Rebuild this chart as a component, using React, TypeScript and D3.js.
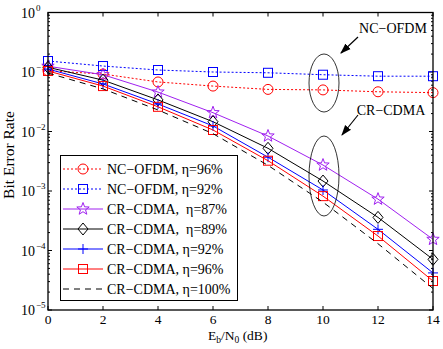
import React from "react"
import * as d3 from "d3"

const snr = [0, 2, 4, 6, 8, 10, 12, 14]

// BER values
const ofdm96 = [0.105, 0.0925, 0.068, 0.058, 0.051, 0.05, 0.0465, 0.045]
const ofdm92 = [0.153, 0.126, 0.108, 0.1, 0.097, 0.09, 0.085, 0.085]
const cdma87 = [0.125, 0.09, 0.046, 0.0207, 0.0084, 0.00273, 0.00073, 0.000154]
const cdma89 = [0.12, 0.073, 0.034, 0.0146, 0.00522, 0.00147, 0.00036, 0.000071]
const cdma92 = [0.112, 0.063, 0.029, 0.0124, 0.0037, 0.00104, 0.000227, 0.000042]
const cdma96 = [0.104, 0.058, 0.026, 0.0106, 0.00323, 0.00082, 0.000175, 0.0000307]
const cdma100 = [0.096, 0.052, 0.023, 0.0092, 0.0027, 0.00065, 0.00013, 0.000023]

const series = [
  { name: "NC\u2212OFDM, \u03b7=96%", vals: ofdm96, color: "#ff0000", dash: "2,2", marker: "circle" },
  { name: "NC\u2212OFDM, \u03b7=92%", vals: ofdm92, color: "#0000ff", dash: "2,2", marker: "square" },
  { name: "CR\u2212CDMA,  \u03b7=87%", vals: cdma87, color: "#a020f0", dash: null, marker: "star" },
  { name: "CR\u2212CDMA,  \u03b7=89%", vals: cdma89, color: "#000000", dash: null, marker: "diamond" },
  { name: "CR\u2212CDMA, \u03b7=92%", vals: cdma92, color: "#0000ff", dash: null, marker: "plus" },
  { name: "CR\u2212CDMA, \u03b7=96%", vals: cdma96, color: "#ff0000", dash: null, marker: "square" },
  { name: "CR\u2212CDMA, \u03b7=100%", vals: cdma100, color: "#000000", dash: "6,5", marker: null },
]

const xTicks = [0, 2, 4, 6, 8, 10, 12, 14]
const yExps = [0, -1, -2, -3, -4, -5]

const font = "Liberation Serif, Times New Roman, serif"

function Marker({ type, x, y, color }) {
  if (type === "circle") return <circle cx={x} cy={y} r={5} fill="none" stroke={color} strokeWidth={1} />
  if (type === "square") return <rect x={x - 4.5} y={y - 4.5} width={9} height={9} fill="none" stroke={color} strokeWidth={1} />
  if (type === "diamond") {
    return <path d={`M${x},${y - 6}L${x + 5},${y}L${x},${y + 6}L${x - 5},${y}Z`} fill="none" stroke={color} strokeWidth={1} />
  }
  if (type === "plus") {
    return <path d={`M${x - 5},${y}H${x + 5}M${x},${y - 5}V${y + 5}`} stroke={color} strokeWidth={1} />
  }
  if (type === "star") {
    const pts = d3.range(10).map(i => {
      const r = i % 2 === 0 ? 6.5 : 2.7
      const a = -Math.PI / 2 + i * Math.PI / 5
      return [x + r * Math.cos(a), y + r * Math.sin(a)]
    })
    return <path d={"M" + pts.map(p => p.join(",")).join("L") + "Z"} fill="none" stroke={color} strokeWidth={1} />
  }
  return null
}

export default function App() {
  const width = 443
  const height = 349
  const left = 48, right = 433, top = 12.5, bottom = 310

  const x = d3.scaleLinear().domain([0, 14]).range([left, right])
  const y = d3.scaleLog().domain([1e-5, 1]).range([bottom, top])

  const line = d3.line<number>()
    .x((d, i) => x(snr[i]))
    .y(d => y(d))

  const minor = []
  yExps.slice(1).forEach(e => {
    for (let k = 2; k <= 9; k++) minor.push(k * Math.pow(10, e))
  })

  const legX = 60.5, legY = 155.5, legW = 177, legH = 145
  const rowY = i => 169 + i * 20
  const tf = { fontFamily: font }

  return (
    <svg width={width} height={height} style={{ position: "absolute", left: 0, top: 0, background: "#fff", fontFamily: font }}>
      <rect width={width} height={height} fill="#fff" />
      {/* ticks */}
      {xTicks.map(t => (
        <g key={"xt" + t}>
          <line x1={x(t)} x2={x(t)} y1={bottom} y2={bottom - 4} stroke="#000" />
          <line x1={x(t)} x2={x(t)} y1={top} y2={top + 4} stroke="#000" />
          <text x={x(t)} y={324} fontSize={13.5} textAnchor="middle" style={tf}>{t}</text>
        </g>
      ))}
      {yExps.map(e => (
        <g key={"yt" + e}>
          <line x1={left} x2={left + 4} y1={y(Math.pow(10, e))} y2={y(Math.pow(10, e))} stroke="#000" />
          <line x1={right} x2={right - 4} y1={y(Math.pow(10, e))} y2={y(Math.pow(10, e))} stroke="#000" />
          <text x={21} y={y(Math.pow(10, e)) + 5} fontSize={14} style={tf}>10</text>
          <text x={36} y={y(Math.pow(10, e)) - 2} fontSize={9} style={tf}>{e === 0 ? "0" : "\u2212" + -e}</text>
        </g>
      ))}
      {minor.map((m, i) => (
        <g key={"mn" + i}>
          <line x1={left} x2={left + 2} y1={y(m)} y2={y(m)} stroke="#000" />
          <line x1={right} x2={right - 2} y1={y(m)} y2={y(m)} stroke="#000" />
        </g>
      ))}

      {/* curves */}
      {series.map((s, si) => (
        <g key={"s" + si}>
          <path d={line(s.vals)} fill="none" stroke={s.color} strokeWidth={1} strokeDasharray={s.dash || undefined} />
          {s.marker && s.vals.map((v, i) => (
            <Marker key={i} type={s.marker} x={x(snr[i])} y={y(v)} color={s.color} />
          ))}
        </g>
      ))}

      {/* frame */}
      <rect x={left} y={top} width={right - left} height={bottom - top} fill="none" stroke="#000" strokeWidth={1.3} />

      {/* annotations */}
      <ellipse cx={324} cy={83} rx={15} ry={29} fill="none" stroke="#000" strokeWidth={0.8} />
      <ellipse cx={324} cy={176} rx={15} ry={40} fill="none" stroke="#000" strokeWidth={0.8} />
      <defs>
        <marker id="arr" viewBox="0 0 10 10" refX={9} refY={5} markerWidth={9} markerHeight={9} orient="auto">
          <path d="M0,1.5L10,5L0,8.5Z" fill="#000" />
        </marker>
      </defs>
      <line x1={358} y1={37} x2={341} y2={53} stroke="#000" strokeWidth={1.2} markerEnd="url(#arr)" />
      <line x1={358} y1={115} x2={342} y2={135} stroke="#000" strokeWidth={1.2} markerEnd="url(#arr)" />
      <text x={393} y={33} fontSize={14} textAnchor="middle" style={tf}>NC{"\u2212"}OFDM</text>
      <text x={391} y={115} fontSize={14} textAnchor="middle" style={tf}>CR{"\u2212"}CDMA</text>

      {/* legend */}
      <rect x={legX} y={legY} width={legW} height={legH} fill="#fff" stroke="#000" strokeWidth={1} />
      {series.map((s, i) => (
        <g key={"lg" + i}>
          <line x1={63} x2={103} y1={rowY(i)} y2={rowY(i)} stroke={s.color} strokeWidth={1} strokeDasharray={s.dash || undefined} />
          {s.marker && <Marker type={s.marker} x={83} y={rowY(i)} color={s.color} />}
          <text x={107} y={rowY(i) + 5} fontSize={14} style={{ whiteSpace: "pre", fontFamily: font }}>{s.name}</text>
        </g>
      ))}

      {/* axis labels */}
      <text transform="translate(14,155) rotate(-90)" fontSize={15.5} textAnchor="middle" style={tf}>Bit Error Rate</text>
      <text x={208} y={340} fontSize={13.5} style={tf}>
        E<tspan fontSize={9.5} dy={2.5}>b</tspan><tspan dy={-2.5}>/N</tspan><tspan fontSize={9.5} dy={2.5}>0</tspan><tspan dy={-2.5}> (dB)</tspan>
      </text>
    </svg>
  )
}
